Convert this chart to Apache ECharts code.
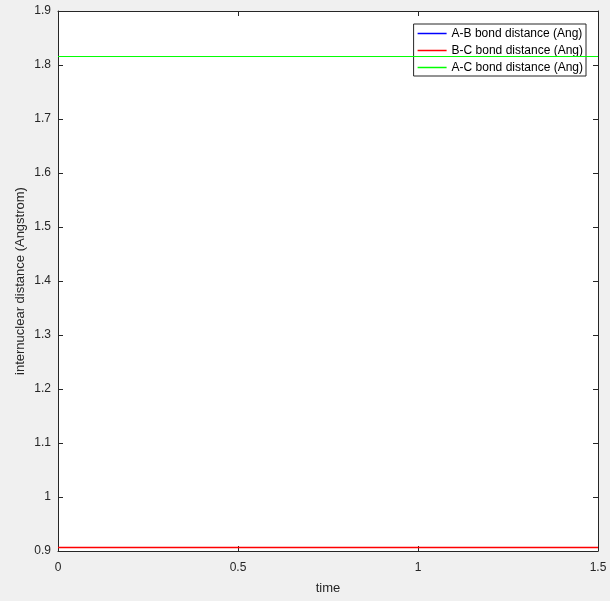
<!DOCTYPE html>
<html>
<head>
<meta charset="utf-8">
<script src="https://cdn.jsdelivr.net/npm/echarts@6/dist/echarts.min.js"></script>
<style>
html, body { margin: 0; padding: 0; background: #f0f0f0; }
#main { width: 610px; height: 601px; }
</style>
</head>
<body>
<div id="main"></div>
<script>
// time samples and bond distances (Angstrom)
var timeData = [0, 0.25, 0.5, 0.75, 1, 1.25, 1.5];
var abDist = [0.9065, 0.9065, 0.9065, 0.9065, 0.9065, 0.9065, 0.9065];
var bcDist = [0.9065, 0.9065, 0.9065, 0.9065, 0.9065, 0.9065, 0.9065];
var acDist = [1.8157, 1.8157, 1.8157, 1.8157, 1.8157, 1.8157, 1.8157];
var seriesNames = ['A-B bond distance (Ang)', 'B-C bond distance (Ang)', 'A-C bond distance (Ang)'];
var xTicks = [0, 0.5, 1, 1.5];

function pairs(ys) {
	var out = [];
	for (var i = 0; i < timeData.length; i++) {
		out.push([timeData[i], ys[i]]);
	}
	return out;
}

var axisColor = '#262626';
var font = 'Liberation Sans, Arial, sans-serif';

var baseX = {
	type : 'value',
	min : 0,
	max : 1.5,
	interval : 0.5,
	axisLine : { show : true, onZero : false, lineStyle : { color : axisColor, width : 1 } },
	axisTick : { show : true, inside : true, length : 5, lineStyle : { color : axisColor } },
	splitLine : { show : false }
};
var baseY = {
	type : 'value',
	min : 0.9,
	max : 1.9,
	interval : 0.1,
	axisLine : { show : true, onZero : false, lineStyle : { color : axisColor, width : 1 } },
	axisTick : { show : true, inside : true, length : 5, lineStyle : { color : axisColor } },
	splitLine : { show : false }
};

var myChart = echarts.init(document.getElementById('main'), null, { renderer : 'canvas' });
var option = {
	backgroundColor : '#f0f0f0',
	animation : false,
	textStyle : { fontFamily : font },
	grid : {
		left : 58,
		right : 12,
		top : 11,
		bottom : 50,
		show : true,
		backgroundColor : '#ffffff',
		borderWidth : 0
	},
	legend : {
		orient : 'vertical',
		right : 24,
		top : 24,
		icon : 'rect',
		itemWidth : 29,
		itemHeight : 1.5,
		itemGap : 2,
		padding : [2, 3, 1, 4],
		backgroundColor : '#ffffff',
		borderColor : axisColor,
		borderWidth : 1,
		borderRadius : 0,
		textStyle : { fontSize : 12, lineHeight : 15, color : '#000', fontFamily : font },
		data : seriesNames
	},
	xAxis : [
		Object.assign({}, baseX, {
			position : 'bottom',
			name : 'time',
			nameLocation : 'middle',
			nameGap : 31,
			nameMoveOverlap : false,
			nameTextStyle : { fontSize : 13, color : axisColor, fontFamily : font },
			axisLabel : {
				color : axisColor,
				fontSize : 12,
				margin : 11,
				formatter : function(v) { return xTicks.indexOf(v) >= 0 ? String(v) : ''; }
			}
		}),
		Object.assign({}, baseX, {
			position : 'top',
			axisLabel : { show : false }
		})
	],
	yAxis : [
		Object.assign({}, baseY, {
			position : 'left',
			name : 'internuclear distance (Angstrom)',
			nameLocation : 'middle',
			nameGap : 31,
			nameMoveOverlap : false,
			nameTextStyle : { fontSize : 13, color : axisColor, fontFamily : font },
			axisLabel : {
				color : axisColor,
				fontSize : 12,
				margin : 7,
				formatter : function(v) { return parseFloat(v.toFixed(1)).toString(); }
			}
		}),
		Object.assign({}, baseY, {
			position : 'right',
			axisLabel : { show : false }
		})
	],
	series : [
		{
			name : seriesNames[0],
			type : 'line',
			z : 2,
			symbol : 'none',
			showSymbol : false,
			lineStyle : { color : '#0000ff', width : 1 },
			itemStyle : { color : '#0000ff' },
			data : pairs(abDist)
		},
		{
			name : seriesNames[1],
			type : 'line',
			z : 3,
			symbol : 'none',
			showSymbol : false,
			lineStyle : { color : '#ff0000', width : 1.5 },
			itemStyle : { color : '#ff0000' },
			data : pairs(bcDist)
		},
		{
			name : seriesNames[2],
			type : 'line',
			z : 4,
			symbol : 'none',
			showSymbol : false,
			lineStyle : { color : '#00ff00', width : 1 },
			itemStyle : { color : '#00ff00' },
			data : pairs(acDist)
		}
	]
};
myChart.setOption(option);
</script>
</body>
</html>
